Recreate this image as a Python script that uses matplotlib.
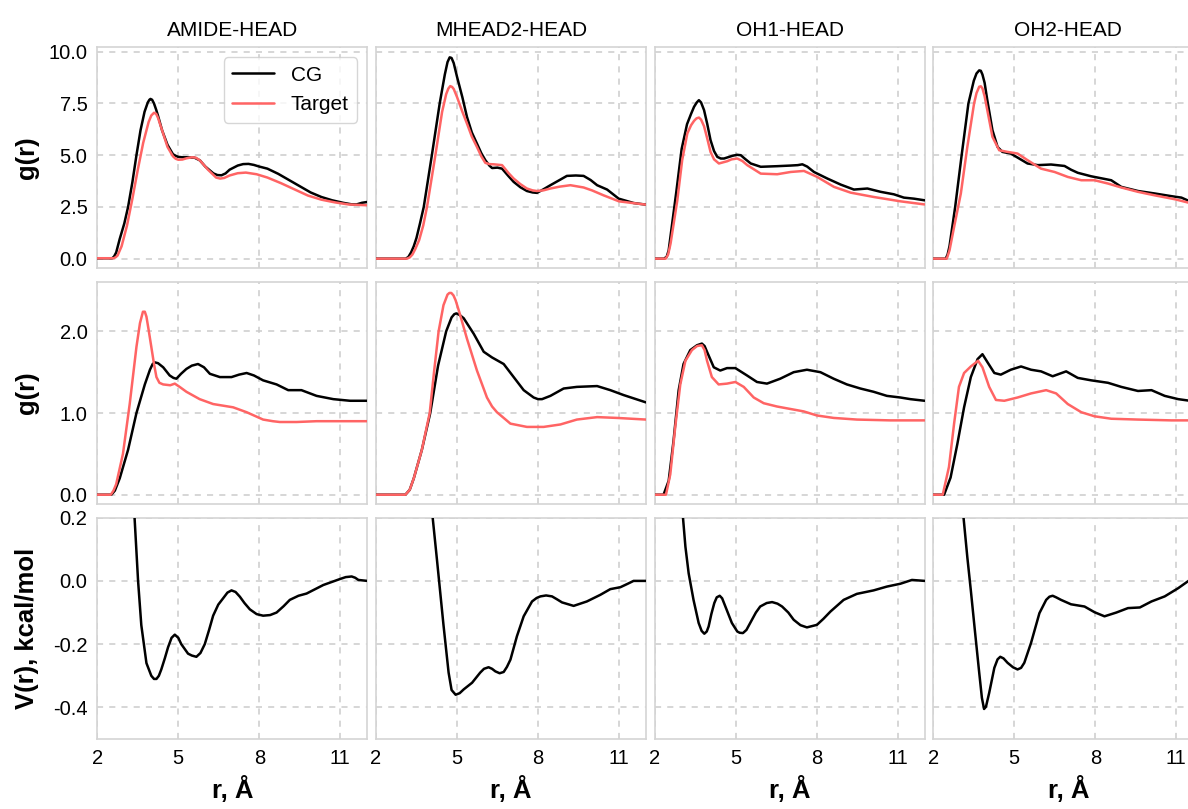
import matplotlib
matplotlib.use("Agg")
import matplotlib.pyplot as plt

plt.rcParams["font.family"] = ["Liberation Sans", "DejaVu Sans"]
plt.rcParams["axes.unicode_minus"] = False

# panel titles
pairs = ["AMIDE-HEAD", "MHEAD2-HEAD", "OH1-HEAD", "OH2-HEAD"]

# ---- row 1: g(r), CG vs target ----
amide_g1_cg_r = [2.0, 2.55, 2.62, 2.7, 2.83, 3.0, 3.14, 3.3, 3.45, 3.6, 3.75, 3.87, 3.93, 3.97, 4.03, 4.1, 4.18, 4.25,
                 4.4, 4.6, 4.8, 4.9, 5.0, 5.15, 5.3, 5.6, 5.8, 6.0, 6.3, 6.45, 6.6, 6.75, 6.9, 7.2, 7.4, 7.6, 7.8, 8.0,
                 8.3, 8.7, 9.1, 9.5, 9.9, 10.3, 10.7, 11.1, 11.4, 11.6, 11.8, 12.0]
amide_g1_cg = [0.02, 0.02, 0.1, 0.3, 0.95, 1.7, 2.5, 3.7, 5.0, 6.2, 7.1, 7.55, 7.68, 7.72, 7.68, 7.5, 7.2, 6.9, 6.2, 5.5,
               5.05, 4.97, 4.92, 4.9, 4.9, 4.88, 4.75, 4.45, 4.12, 4.04, 4.03, 4.12, 4.3, 4.5, 4.57, 4.58, 4.53, 4.45,
               4.35, 4.1, 3.8, 3.5, 3.2, 2.98, 2.82, 2.7, 2.63, 2.62, 2.7, 2.74]
amide_g1_tg_r = [2.0, 2.6, 2.68, 2.75, 2.9, 3.1, 3.3, 3.5, 3.7, 3.9, 4.0, 4.1, 4.18, 4.25, 4.4, 4.6, 4.8, 4.9, 5.0, 5.15,
                 5.3, 5.5, 5.65, 5.8, 6.1, 6.4, 6.55, 6.7, 6.9, 7.2, 7.5, 7.9, 8.3, 8.8, 9.3, 9.8, 10.3, 10.8, 11.3, 12.0]
amide_g1_tg = [0.02, 0.02, 0.07, 0.15, 0.6, 1.6, 2.9, 4.3, 5.6, 6.6, 6.92, 7.05, 7.0, 6.8, 6.2, 5.4, 4.95, 4.83, 4.78,
               4.79, 4.85, 4.9, 4.88, 4.75, 4.3, 3.92, 3.87, 3.9, 4.02, 4.13, 4.16, 4.08, 3.92, 3.65, 3.35, 3.05, 2.85,
               2.72, 2.62, 2.58]

mhead_g1_cg_r = [2.0, 3.1, 3.2, 3.3, 3.4, 3.5, 3.63, 3.77, 4.07, 4.36, 4.55, 4.65, 4.73, 4.8, 4.88, 5.0, 5.2, 5.37, 5.55,
                 5.74, 5.9, 6.05, 6.2, 6.3, 6.5, 6.67, 6.9, 7.1, 7.35, 7.59, 7.8, 7.96, 8.2, 8.46, 8.8, 9.07, 9.4, 9.69,
                 9.95, 10.19, 10.56, 10.99, 11.54, 12.0]
mhead_g1_cg = [0.0, 0.0, 0.08, 0.3, 0.6, 1.0, 1.7, 2.5, 5.0, 7.5, 8.9, 9.5, 9.73, 9.7, 9.45, 8.8, 7.8, 6.85, 6.1, 5.56,
               5.1, 4.76, 4.5, 4.38, 4.4, 4.35, 4.0, 3.71, 3.45, 3.27, 3.2, 3.18, 3.35, 3.55, 3.8, 4.0, 4.02, 4.0, 3.8,
               3.55, 3.34, 2.9, 2.69, 2.61]
mhead_g1_tg_r = [2.0, 3.15, 3.25, 3.35, 3.45, 3.6, 3.75, 3.89, 4.2, 4.45, 4.6, 4.68, 4.75, 4.82, 4.88, 5.0, 5.2, 5.37,
                 5.55, 5.74, 5.9, 6.05, 6.2, 6.36, 6.67, 6.9, 7.1, 7.35, 7.59, 7.8, 7.96, 8.2, 8.46, 8.8, 9.2, 9.69,
                 10.0, 10.43, 11.0, 12.0]
mhead_g1_tg = [0.0, 0.0, 0.06, 0.2, 0.45, 0.9, 1.6, 2.5, 5.0, 7.1, 7.95, 8.22, 8.34, 8.3, 8.2, 7.82, 7.1, 6.53, 5.9, 5.4,
               4.95, 4.63, 4.57, 4.56, 4.52, 4.15, 3.87, 3.6, 3.39, 3.3, 3.27, 3.3, 3.39, 3.48, 3.55, 3.44, 3.3, 3.06,
               2.77, 2.61]

oh1_g1_cg_r = [2.0, 2.35, 2.45, 2.52, 2.6, 2.8, 3.0, 3.2, 3.35, 3.46, 3.56, 3.64, 3.72, 3.83, 3.95, 4.07, 4.2, 4.32,
               4.45, 4.57, 4.88, 5.05, 5.19, 5.35, 5.56, 5.93, 6.54, 7.04, 7.3, 7.47, 7.65, 7.9, 8.4, 8.89, 9.38, 9.88,
               10.37, 10.86, 11.23, 11.6, 12.0]
oh1_g1_cg = [0.0, 0.0, 0.1, 0.4, 1.2, 3.2, 5.3, 6.5, 7.0, 7.34, 7.55, 7.66, 7.55, 7.18, 6.5, 5.73, 5.2, 4.92, 4.84, 4.84,
             4.97, 5.02, 5.0, 4.82, 4.6, 4.44, 4.47, 4.5, 4.52, 4.56, 4.45, 4.19, 3.87, 3.58, 3.34, 3.39, 3.23, 3.11,
             2.95, 2.9, 2.82]
oh1_g1_tg_r = [2.0, 2.41, 2.5, 2.59, 2.84, 3.02, 3.21, 3.35, 3.46, 3.55, 3.64, 3.72, 3.83, 3.95, 4.07, 4.2, 4.38, 4.69,
               4.85, 5.06, 5.25, 5.43, 5.93, 6.54, 7.04, 7.53, 8.02, 8.64, 9.26, 10.12, 11.11, 12.0]
oh1_g1_tg = [0.0, 0.0, 0.2, 0.73, 2.82, 4.76, 6.05, 6.45, 6.66, 6.78, 6.82, 6.72, 6.4, 5.8, 5.16, 4.8, 4.6, 4.71, 4.8,
             4.84, 4.72, 4.52, 4.11, 4.08, 4.19, 4.24, 3.95, 3.47, 3.19, 2.98, 2.77, 2.62]

oh2_g1_cg_r = [2.0, 2.46, 2.53, 2.6, 2.81, 3.05, 3.3, 3.5, 3.6, 3.7, 3.76, 3.82, 3.9, 4.0, 4.19, 4.38, 4.56, 4.87, 5.18,
               5.49, 5.87, 6.36, 6.86, 7.1, 7.35, 7.85, 8.28, 8.59, 8.96, 9.58, 10.2, 10.82, 11.19, 11.5, 12.0]
oh2_g1_cg = [0.0, 0.0, 0.2, 0.6, 2.5, 5.0, 7.5, 8.6, 8.95, 9.1, 9.08, 8.9, 8.5, 7.66, 6.21, 5.4, 5.16, 5.08, 4.84, 4.6,
             4.52, 4.55, 4.48, 4.3, 4.15, 3.98, 3.87, 3.79, 3.47, 3.27, 3.15, 3.02, 2.95, 2.77, 2.65]
oh2_g1_tg_r = [2.0, 2.5, 2.6, 2.77, 3.02, 3.26, 3.51, 3.6, 3.7, 3.76, 3.82, 3.9, 4.0, 4.19, 4.44, 4.75, 5.12, 5.49, 5.99,
               6.49, 6.98, 7.48, 7.97, 8.47, 8.96, 9.58, 10.2, 10.95, 11.5, 12.0]
oh2_g1_tg = [0.0, 0.0, 0.4, 1.53, 3.15, 5.4, 7.5, 8.0, 8.31, 8.33, 8.23, 7.85, 7.18, 5.89, 5.24, 5.16, 5.08, 4.76, 4.35,
             4.19, 3.95, 3.79, 3.79, 3.63, 3.44, 3.23, 3.06, 2.87, 2.69, 2.58]

# ---- row 2: g(r), CG vs target ----
amide_g2_cg_r = [2.0, 2.52, 2.65, 2.83, 3.14, 3.45, 3.76, 3.95, 4.05, 4.13, 4.25, 4.44, 4.68, 4.82, 4.93, 5.1, 5.3, 5.5,
                 5.73, 5.95, 6.17, 6.54, 6.97, 7.25, 7.53, 7.8, 8.14, 8.64, 9.07, 9.56, 10.12, 10.74, 11.36, 12.0]
amide_g2_cg = [0.0, 0.0, 0.05, 0.2, 0.55, 1.0, 1.35, 1.53, 1.6, 1.62, 1.61, 1.56, 1.46, 1.43, 1.42, 1.48, 1.54, 1.58,
               1.6, 1.56, 1.48, 1.44, 1.44, 1.47, 1.49, 1.46, 1.4, 1.35, 1.28, 1.28, 1.21, 1.17, 1.15, 1.15]
amide_g2_tg_r = [2.0, 2.5, 2.6, 2.7, 2.95, 3.2, 3.45, 3.58, 3.69, 3.76, 3.82, 3.9, 4.0, 4.1, 4.19, 4.3, 4.44, 4.7, 4.87,
                 5.05, 5.3, 5.79, 6.29, 7.03, 7.53, 8.14, 8.5, 8.76, 9.38, 10.12, 12.0]
amide_g2_tg = [0.0, 0.0, 0.05, 0.13, 0.5, 1.11, 1.81, 2.1, 2.24, 2.24, 2.18, 2.02, 1.81, 1.6, 1.44, 1.37, 1.35, 1.34,
               1.36, 1.32, 1.26, 1.17, 1.11, 1.07, 1.01, 0.92, 0.9, 0.89, 0.89, 0.9, 0.9]

mhead_g2_cg_r = [2.0, 3.09, 3.25, 3.4, 3.7, 4.01, 4.3, 4.6, 4.8, 4.9, 4.98, 5.1, 5.25, 5.62, 5.99, 6.3, 6.73, 7.1, 7.47,
                 7.84, 8.0, 8.15, 8.46, 8.95, 9.44, 10.19, 10.68, 11.17, 12.0]
mhead_g2_cg = [0.0, 0.0, 0.06, 0.2, 0.55, 1.0, 1.58, 2.0, 2.17, 2.21, 2.22, 2.2, 2.16, 1.97, 1.75, 1.68, 1.6, 1.44, 1.28,
               1.19, 1.17, 1.17, 1.21, 1.3, 1.32, 1.33, 1.28, 1.22, 1.13]
mhead_g2_tg_r = [2.0, 3.09, 3.25, 3.4, 3.7, 3.99, 4.15, 4.32, 4.5, 4.65, 4.72, 4.79, 4.87, 4.95, 5.1, 5.37, 5.74, 6.11,
                 6.3, 6.48, 6.98, 7.59, 8.21, 8.83, 9.44, 10.19, 10.93, 12.0]
mhead_g2_tg = [0.0, 0.0, 0.06, 0.2, 0.55, 1.0, 1.5, 2.0, 2.32, 2.45, 2.47, 2.47, 2.44, 2.38, 2.22, 1.91, 1.52, 1.19, 1.08,
               1.01, 0.87, 0.83, 0.83, 0.86, 0.92, 0.95, 0.94, 0.92]

oh1_g2_cg_r = [2.0, 2.33, 2.52, 2.7, 2.89, 3.07, 3.32, 3.57, 3.75, 3.85, 3.94, 4.19, 4.43, 4.68, 4.99, 5.42, 5.79, 6.16,
               6.65, 7.15, 7.64, 8.14, 8.63, 9.12, 9.62, 10.11, 10.6, 11.1, 11.47, 12.0]
oh1_g2_cg = [0.0, 0.0, 0.17, 0.66, 1.28, 1.6, 1.77, 1.83, 1.85, 1.82, 1.75, 1.56, 1.52, 1.55, 1.55, 1.46, 1.38, 1.36,
             1.42, 1.5, 1.53, 1.5, 1.42, 1.35, 1.3, 1.26, 1.21, 1.19, 1.17, 1.15]
oh1_g2_tg_r = [2.0, 2.42, 2.58, 2.77, 2.95, 3.14, 3.38, 3.57, 3.75, 3.85, 3.94, 4.12, 4.37, 4.68, 4.99, 5.3, 5.67, 6.04,
               6.53, 7.02, 7.52, 8.01, 8.63, 9.49, 10.73, 12.0]
oh1_g2_tg = [0.0, 0.0, 0.25, 0.85, 1.35, 1.64, 1.77, 1.82, 1.83, 1.77, 1.64, 1.44, 1.35, 1.36, 1.38, 1.32, 1.19, 1.12,
             1.08, 1.05, 1.02, 0.97, 0.94, 0.92, 0.91, 0.91]

oh2_g2_cg_r = [2.0, 2.4, 2.64, 2.89, 3.14, 3.39, 3.64, 3.82, 4.01, 4.26, 4.5, 4.87, 5.25, 5.62, 5.99, 6.42, 6.92, 7.35,
               7.85, 8.47, 8.96, 9.58, 10.08, 10.57, 11.07, 11.5, 12.0]
oh2_g2_cg = [0.0, 0.0, 0.21, 0.62, 1.07, 1.44, 1.66, 1.72, 1.62, 1.49, 1.47, 1.53, 1.57, 1.53, 1.51, 1.45, 1.51, 1.43,
             1.4, 1.37, 1.32, 1.27, 1.28, 1.21, 1.17, 1.15, 1.13]
oh2_g2_tg_r = [2.0, 2.35, 2.58, 2.77, 2.95, 3.14, 3.39, 3.66, 3.82, 4.07, 4.32, 4.63, 5.12, 5.62, 6.18, 6.55, 6.98, 7.48,
               7.97, 8.59, 9.58, 10.82, 12.0]
oh2_g2_tg = [0.0, 0.0, 0.34, 0.87, 1.32, 1.49, 1.57, 1.64, 1.56, 1.32, 1.16, 1.15, 1.19, 1.24, 1.28, 1.24, 1.11, 1.01,
             0.96, 0.93, 0.92, 0.91, 0.91]

# ---- row 3: CG potentials V(r) ----
amide_v_r = [3.0, 3.2, 3.38, 3.51, 3.63, 3.82, 4.0, 4.1, 4.19, 4.28, 4.37, 4.5, 4.62, 4.75, 4.87, 5.0, 5.11, 5.36, 5.5,
             5.67, 5.82, 5.98, 6.14, 6.29, 6.48, 6.66, 6.82, 6.97, 7.12, 7.28, 7.45, 7.65, 7.9, 8.14, 8.4, 8.64, 8.9,
             9.13, 9.45, 9.75, 10.37, 10.99, 11.2, 11.42, 11.55, 11.67, 12.0]
amide_v = [1.0, 0.5, 0.2, 0.0, -0.14, -0.26, -0.30, -0.31, -0.31, -0.3, -0.28, -0.245, -0.21, -0.18, -0.17, -0.18, -0.2,
           -0.23, -0.236, -0.24, -0.228, -0.2, -0.155, -0.11, -0.075, -0.055, -0.037, -0.03, -0.035, -0.05, -0.07,
           -0.09, -0.105, -0.11, -0.108, -0.1, -0.08, -0.06, -0.047, -0.04, -0.013, 0.006, 0.012, 0.014, 0.01, 0.003,
           0.0]
mhead_v_r = [3.9, 4.1, 4.26, 4.5, 4.69, 4.8, 4.95, 5.1, 5.25, 5.56, 5.86, 6.0, 6.17, 6.3, 6.42, 6.58, 6.73, 6.85, 6.98,
             7.22, 7.47, 7.78, 7.95, 8.09, 8.3, 8.52, 8.7, 8.89, 9.32, 9.81, 10.31, 10.68, 11.05, 11.3, 11.54, 12.0]
mhead_v = [0.8, 0.2, 0.066, -0.139, -0.29, -0.345, -0.36, -0.355, -0.343, -0.322, -0.29, -0.278, -0.273, -0.278, -0.286,
           -0.292, -0.288, -0.272, -0.249, -0.175, -0.112, -0.065, -0.054, -0.049, -0.046, -0.049, -0.058, -0.068,
           -0.079, -0.065, -0.044, -0.026, -0.02, -0.01, 0.0, 0.0]
oh1_v_r = [2.9, 3.05, 3.14, 3.26, 3.44, 3.63, 3.74, 3.84, 3.93, 4.0, 4.1, 4.21, 4.3, 4.41, 4.5, 4.62, 4.86, 5.06, 5.15,
           5.27, 5.4, 5.54, 5.75, 5.91, 6.15, 6.35, 6.55, 6.72, 6.95, 7.15, 7.4, 7.64, 8.01, 8.25, 8.51, 9.0, 9.49,
           10.11, 10.6, 11.1, 11.53, 12.0]
oh1_v = [0.6, 0.2, 0.108, 0.024, -0.06, -0.133, -0.158, -0.167, -0.16, -0.144, -0.105, -0.07, -0.052, -0.047, -0.055,
         -0.081, -0.133, -0.16, -0.164, -0.165, -0.155, -0.133, -0.1, -0.081, -0.07, -0.067, -0.072, -0.081, -0.1,
         -0.123, -0.14, -0.147, -0.139, -0.12, -0.097, -0.06, -0.041, -0.03, -0.018, -0.009, 0.003, 0.0]
oh2_v_r = [3.0, 3.12, 3.26, 3.39, 3.54, 3.7, 3.8, 3.88, 3.95, 4.07, 4.26, 4.38, 4.48, 4.6, 4.75, 4.95, 5.12, 5.25, 5.37,
           5.62, 5.93, 6.18, 6.3, 6.42, 6.55, 6.73, 7.1, 7.6, 7.97, 8.34, 8.78, 9.21, 9.65, 10.08, 10.57, 11.07, 11.5,
           12.0]
oh2_v = [0.6, 0.2, 0.075, -0.03, -0.157, -0.29, -0.37, -0.405, -0.398, -0.354, -0.275, -0.248, -0.24, -0.245, -0.259,
         -0.273, -0.28, -0.275, -0.259, -0.196, -0.102, -0.06, -0.05, -0.047, -0.052, -0.06, -0.074, -0.081, -0.099,
         -0.112, -0.1, -0.086, -0.084, -0.065, -0.049, -0.023, 0.003, 0.03]

row1 = [(amide_g1_cg_r, amide_g1_cg, amide_g1_tg_r, amide_g1_tg),
        (mhead_g1_cg_r, mhead_g1_cg, mhead_g1_tg_r, mhead_g1_tg),
        (oh1_g1_cg_r, oh1_g1_cg, oh1_g1_tg_r, oh1_g1_tg),
        (oh2_g1_cg_r, oh2_g1_cg, oh2_g1_tg_r, oh2_g1_tg)]
row2 = [(amide_g2_cg_r, amide_g2_cg, amide_g2_tg_r, amide_g2_tg),
        (mhead_g2_cg_r, mhead_g2_cg, mhead_g2_tg_r, mhead_g2_tg),
        (oh1_g2_cg_r, oh1_g2_cg, oh1_g2_tg_r, oh1_g2_tg),
        (oh2_g2_cg_r, oh2_g2_cg, oh2_g2_tg_r, oh2_g2_tg)]
row3 = [(amide_v_r, amide_v), (mhead_v_r, mhead_v), (oh1_v_r, oh1_v), (oh2_v_r, oh2_v)]

cg_color = "black"
target_color = "#ff6464"
edge_color = "#d4d4d4"
line_kw = dict(lw=1.8, solid_joinstyle="round", solid_capstyle="round", zorder=3)

fig, axes = plt.subplots(3, 4, figsize=(11.88, 8.09), dpi=100, sharex=True, sharey="row")
fig.subplots_adjust(left=0.0819, right=1.0129, top=0.9419, bottom=0.0865, wspace=0.032, hspace=0.063)

for j in range(4):
    ax = axes[0, j]
    r_cg, g_cg, r_tg, g_tg = row1[j]
    ax.plot(r_cg, g_cg, color=cg_color, label="CG", **line_kw)
    ax.plot(r_tg, g_tg, color=target_color, label="Target", **line_kw)
    ax.set_title(pairs[j], fontsize=15, pad=8)

    ax = axes[1, j]
    r_cg, g_cg, r_tg, g_tg = row2[j]
    ax.plot(r_cg, g_cg, color=cg_color, **line_kw)
    ax.plot(r_tg, g_tg, color=target_color, **line_kw)

    ax = axes[2, j]
    r_v, v = row3[j]
    ax.plot(r_v, v, color=cg_color, **line_kw)
    ax.set_xlabel("r, Å", fontsize=18.5, fontweight="bold", labelpad=6)

for ax in axes.flat:
    ax.grid(True, color="#cccccc", linestyle=(0, (4, 4)), lw=1.1)
    ax.set_axisbelow(True)
    for s in ax.spines.values():
        s.set_color(edge_color)
        s.set_linewidth(1.2)
    ax.tick_params(length=0, labelsize=14.5, pad=7)

axes[0, 0].set_xlim(2, 12)
axes[0, 0].set_xticks([2, 5, 8, 11])
axes[0, 0].set_ylim(-0.47, 10.23)
axes[0, 0].set_yticks([0.0, 2.5, 5.0, 7.5, 10.0])
axes[0, 0].set_yticklabels(["0.0", "2.5", "5.0", "7.5", "10.0"])
axes[1, 0].set_ylim(-0.11, 2.6)
axes[1, 0].set_yticks([0.0, 1.0, 2.0])
axes[1, 0].set_yticklabels(["0.0", "1.0", "2.0"])
axes[2, 0].set_ylim(-0.5, 0.2)
axes[2, 0].set_yticks([-0.4, -0.2, 0.0, 0.2])
axes[2, 0].set_yticklabels(["-0.4", "-0.2", "0.0", "0.2"])

axes[0, 0].set_ylabel("g(r)", fontsize=18.5, fontweight="bold", labelpad=7)
axes[1, 0].set_ylabel("g(r)", fontsize=18.5, fontweight="bold", labelpad=7)
axes[2, 0].set_ylabel("V(r), kcal/mol", fontsize=18.5, fontweight="bold", labelpad=7)
fig.align_ylabels(axes[:, 0])

leg = axes[0, 0].legend(loc="upper right", fontsize=15, frameon=True, fancybox=True)
leg.get_frame().set_edgecolor("#cccccc")

plt.savefig("out.png", dpi=100, facecolor="white")
